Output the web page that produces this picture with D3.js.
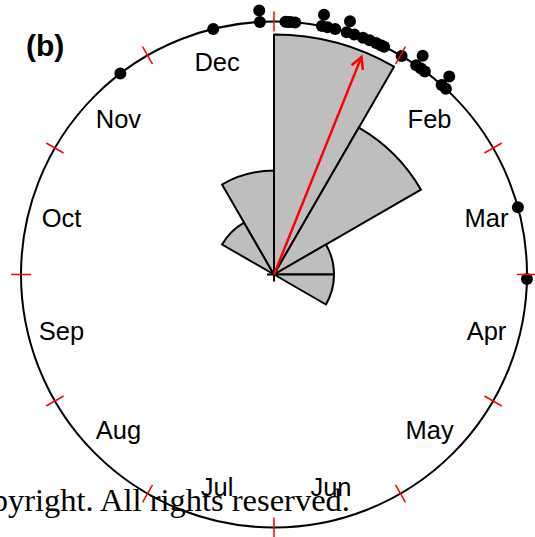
<!DOCTYPE html>
<html>
<head>
<meta charset="utf-8">
<script src="https://cdn.jsdelivr.net/npm/d3@7"></script>
<style>
  body { margin: 0; background: #fff; }
  svg { display: block; }
</style>
</head>
<body>
<div id="chart"></div>
<script>
// month names, clockwise from the top
var months = ["Jan", "Feb", "Mar", "Apr", "May", "Jun", "Jul", "Aug", "Sep", "Oct", "Nov", "Dec"];
// events per month (rose petals)
var monthCounts = [16, 8, 1, 1, 0, 0, 0, 0, 0, 0, 1, 3];
// event dates as degrees clockwise from 1 Jan (equal dates get stacked)
var eventDeg = [
    322.6,
    346.1, 356.8, 356.8,
    2.6, 3.2, 3.8, 4.8, 10.9, 10.9, 12.2, 14.0, 16.7, 16.7, 18.5, 20.6, 22.2, 23.8, 25.0, 25.8,
    30.3, 34.2, 34.2, 35.5, 36.6, 41.5, 41.5, 42.8,
    74.6,
    91.0
];
// mean direction (degrees) and arrow length (share of the circle radius)
var meanDeg = 21.9;
var meanLen = 0.927;

var width = 535, height = 537;
var cx = 274, cy = 274.5, R = 253;

var svg = d3.select("#chart")
    .append("svg")
    .attr("width", width)
    .attr("height", height);

var g = svg.append("g")
    .attr("transform", "translate(" + cx + "," + cy + ")");

var toRad = function (d) { return d * Math.PI / 180; };
var monthAngle = d3.scaleLinear().domain([0, 12]).range([0, 2 * Math.PI]);
var petalR = d3.scaleSqrt().domain([0, 16]).range([0, 240]);

function px(a, r) { return r * Math.sin(a); }
function py(a, r) { return -r * Math.cos(a); }

// outer circle
g.append("circle")
    .attr("r", R)
    .attr("fill", "none")
    .attr("stroke", "black")
    .attr("stroke-width", 2);

// stacked points
var seen = {};
var pts = eventDeg.map(function (d) {
    var k = d.toFixed(1);
    seen[k] = (seen[k] || 0) + 1;
    return { a: toRad(d), level: seen[k] - 1 };
});
g.selectAll(".pt")
    .data(pts)
    .enter().append("circle")
    .attr("class", "pt")
    .attr("cx", function (d) { return px(d.a, R + d.level * 11.5); })
    .attr("cy", function (d) { return py(d.a, R + d.level * 11.5); })
    .attr("r", 6)
    .attr("fill", "black");

// red ticks at month boundaries
g.selectAll(".tick")
    .data(d3.range(12))
    .enter().append("line")
    .attr("class", "tick")
    .attr("x1", function (i) { return px(monthAngle(i), R - 10); })
    .attr("y1", function (i) { return py(monthAngle(i), R - 10); })
    .attr("x2", function (i) { return px(monthAngle(i), R + 10); })
    .attr("y2", function (i) { return py(monthAngle(i), R + 10); })
    .attr("stroke", "red")
    .attr("stroke-width", 1.5);

// month labels
g.selectAll(".lab")
    .data(months)
    .enter().append("text")
    .attr("class", "lab")
    .attr("x", function (d, i) { return px(monthAngle(i + 0.5), 220); })
    .attr("y", function (d, i) { return py(monthAngle(i + 0.5), 220); })
    .attr("text-anchor", "middle")
    .attr("dominant-baseline", "central")
    .style("font-family", "Liberation Sans, Arial, sans-serif")
    .style("font-size", "25.5px")
    .text(function (d) { return d; });

// little cross at the centre
g.append("path")
    .attr("d", "M-7,0H7M0,-7V7")
    .attr("stroke", "black")
    .attr("stroke-width", 2);

// rose petals
var arc = d3.arc().innerRadius(0);
monthCounts.forEach(function (c, i) {
    if (c <= 0) return;
    g.append("path")
        .attr("class", "petal")
        .attr("d", arc({ outerRadius: petalR(c), startAngle: monthAngle(i), endAngle: monthAngle(i + 1) }))
        .attr("fill", "#bebebe")
        .attr("stroke", "black")
        .attr("stroke-width", 2)
        .attr("stroke-linejoin", "round");
});

// mean direction arrow
var ma = toRad(meanDeg), L = meanLen * R;
var tipX = px(ma, L), tipY = py(ma, L);
var head = 13, spread = toRad(28);
var hx1 = tipX + px(ma + Math.PI - spread, head), hy1 = tipY + py(ma + Math.PI - spread, head);
var hx2 = tipX + px(ma + Math.PI + spread, head), hy2 = tipY + py(ma + Math.PI + spread, head);
g.append("path")
    .attr("d", "M0,0L" + tipX + "," + tipY + "M" + hx1 + "," + hy1 + "L" + tipX + "," + tipY + "L" + hx2 + "," + hy2)
    .attr("fill", "none")
    .attr("stroke", "red")
    .attr("stroke-width", 2.5);

// panel letter
svg.append("text")
    .attr("x", 26)
    .attr("y", 56)
    .style("font-family", "Liberation Sans, Arial, sans-serif")
    .style("font-weight", "bold")
    .style("font-size", "30px")
    .text("(b)");

// copyright overlay
svg.append("text")
    .attr("x", 350)
    .attr("y", 511)
    .attr("text-anchor", "end")
    .style("font-family", "Liberation Serif, serif")
    .style("font-size", "32.5px")
    .text("Copyright. All rights reserved.");
</script>
</body>
</html>
